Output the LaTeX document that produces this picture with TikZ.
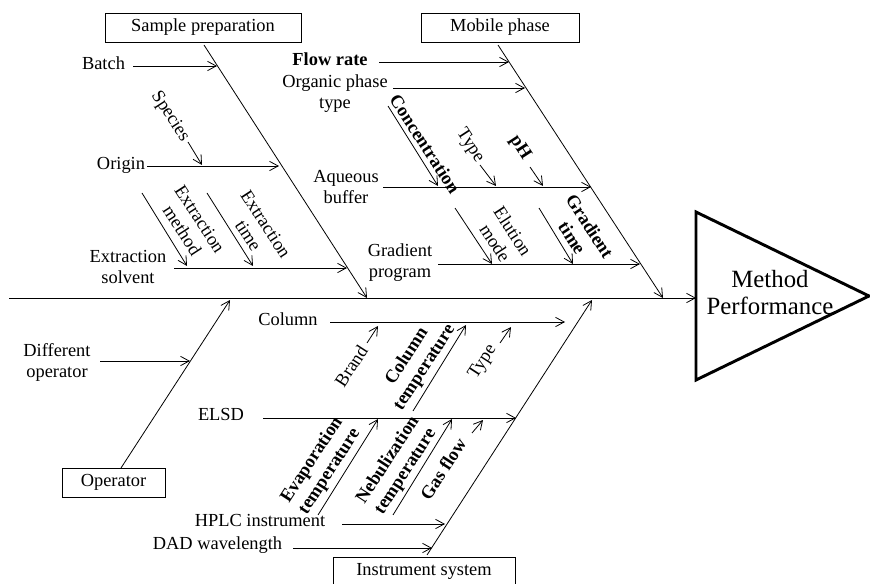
\documentclass[tikz,border=0pt]{standalone}
\usepackage{fontspec}
\setmainfont{Liberation Serif}
\usetikzlibrary{arrows.meta}
\begin{document}
\begin{tikzpicture}[x=0.75pt,y=-0.75pt,
  lbl/.style={font=\fontsize{13.8}{15.75}\selectfont, inner sep=0pt, align=center},
  blbl/.style={font=\fontsize{13.8}{15.75}\selectfont\bfseries, inner sep=0pt, align=center},
  one/.style={text height=1.5ex, text depth=.25ex},
  dn/.style={rotate=-57},
  up/.style={rotate=57},
  box/.style={draw, line width=0.6pt, inner sep=0pt, minimum height=21.75pt, font=\fontsize{13.8}{15.75}\selectfont},
  ln/.style={line width=0.6pt},
  arr/.style={ln, -{Straight Barb[length=6.5pt,width=7pt]}},
]
\useasboundingbox (0,0) rectangle (870,584);

% ---------- boxes ----------
\node[box, minimum width=147pt] (sp) at (203,27.5) {Sample preparation};
\node[box, minimum width=118.5pt] (mp) at (500,27.5) {Mobile phase};
\node[box, minimum width=77.25pt] (op) at (113.5,482.5) {Operator};
\node[box, minimum width=136.5pt] (is) at (424,571.5) {Instrument system};

% ---------- effect ----------
\coordinate (t1) at (696,212);
\coordinate (t2) at (696,380);
\coordinate (t3) at (869,296);
\draw[line width=2.2pt, line join=miter] (t1) -- (t2) -- (t3) -- cycle;
\node[font=\fontsize{18.6}{20.25}\selectfont, align=center] (mperf) at (770,293) {Method\\Performance};

% ---------- spine ----------
\coordinate (s0) at (9,298);
\coordinate (s1) at (696,298);
\draw[arr] (s0) -- (s1);

% ---------- main bones ----------
\coordinate (sp1) at (204,45);  \coordinate (sp2) at (367,298);
\coordinate (mp1) at (498,45);  \coordinate (mp2) at (663,298);
\coordinate (op1) at (121,468); \coordinate (op2) at (230,300);
\coordinate (is1) at (427,555); \coordinate (is2) at (592,300);
\draw[arr] (sp1) -- (sp2);
\draw[arr] (mp1) -- (mp2);
\draw[arr] (op1) -- (op2);
\draw[arr] (is1) -- (is2);

% ---------- Sample preparation ----------
\node[lbl, one] (batch) at (103.5,66) {Batch};
\coordinate (b1) at (133,66); \coordinate (b2) at (217,66);
\draw[arr] (b1) -- (b2);

\node[lbl, one] (origin) at (121,166) {Origin};
\coordinate (o1) at (147,166); \coordinate (o2) at (279,166);
\draw[arr] (o1) -- (o2);

\node[lbl, dn] (species) at (170,117) {Species};
\coordinate (spc1) at (188,142); \coordinate (spc2) at (202,165);
\draw[arr] (spc1) -- (spc2);

\node[lbl] (esolv) at (128,267) {Extraction\\solvent};
\coordinate (es1) at (174,268); \coordinate (es2) at (347,268);
\draw[arr] (es1) -- (es2);

\node[lbl, dn] (emeth) at (191,225) {Extraction\\method};
\coordinate (em1) at (142,193); \coordinate (em2) at (187,266);
\draw[arr] (em1) -- (em2);

\node[lbl, dn] (etime) at (257,230) {Extraction\\time};
\coordinate (et1) at (207,193); \coordinate (et2) at (253,266);
\draw[arr] (et1) -- (et2);

% ---------- Mobile phase ----------
\node[blbl, one] (flow) at (330,62) {Flow rate};
\coordinate (f1) at (379,62); \coordinate (f2) at (509,62);
\draw[arr] (f1) -- (f2);

\node[lbl] (organic) at (335,94) {Organic phase\\type};
\coordinate (org1) at (393,88); \coordinate (org2) at (525,88);
\draw[arr] (org1) -- (org2);

\node[lbl] (aq) at (346,187) {Aqueous\\buffer};
\coordinate (aq1) at (383,187); \coordinate (aq2) at (591,187);
\draw[arr] (aq1) -- (aq2);

\node[blbl, dn] (conc) at (425,144) {Concentration};
\coordinate (c1) at (388,106); \coordinate (c2) at (438,186);
\draw[arr] (c1) -- (c2);

\node[lbl, dn] (typeu) at (470,146) {Type};
\coordinate (ty1) at (480,165); \coordinate (ty2) at (496,186);
\draw[arr] (ty1) -- (ty2);

\node[blbl, dn] (ph) at (520,148) {pH};
\coordinate (ph1) at (530,167); \coordinate (ph2) at (543,186);
\draw[arr] (ph1) -- (ph2);

\node[lbl] (gprog) at (400,263) {Gradient\\program};
\coordinate (gp1) at (438,264); \coordinate (gp2) at (640,264);
\draw[arr] (gp1) -- (gp2);

\node[lbl, dn] (elution) at (504,237) {Elution\\mode};
\coordinate (el1) at (455,208); \coordinate (el2) at (492,264);
\draw[arr] (el1) -- (el2);

\node[blbl, dn] (gtime) at (581,232) {Gradient\\time};
\coordinate (gt1) at (539,208); \coordinate (gt2) at (573,264);
\draw[arr] (gt1) -- (gt2);

% ---------- Operator ----------
\node[lbl] (diffop) at (57,362) {Different\\operator};
\coordinate (d1) at (100,361); \coordinate (d2) at (190,361);
\draw[arr] (d1) -- (d2);

% ---------- Instrument system ----------
\node[lbl, one] (column) at (288,322) {Column};
\coordinate (col1) at (330,322); \coordinate (col2) at (565,322);
\draw[arr] (col1) -- (col2);

\node[lbl, up] (brand) at (351,366) {Brand};
\coordinate (br1) at (367,343); \coordinate (br2) at (378,326);
\draw[arr] (br1) -- (br2);

\node[blbl, up] (coltemp) at (416,362) {Column\\temperature};
\coordinate (ct1) at (413,411); \coordinate (ct2) at (466,325);
\draw[arr] (ct1) -- (ct2);

\node[lbl, up] (typel) at (483,362) {Type};
\coordinate (tl1) at (500,343); \coordinate (tl2) at (511,327);
\draw[arr] (tl1) -- (tl2);

\node[lbl, one] (elsd) at (221,417) {ELSD};
\coordinate (e1) at (263,418); \coordinate (e2) at (516,418);
\draw[arr] (e1) -- (e2);

\node[blbl, up] (evap) at (321,466) {Evaporation\\temperature};
\coordinate (ev1) at (318,515); \coordinate (ev2) at (378,419);
\draw[arr] (ev1) -- (ev2);

\node[blbl, up] (nebu) at (397,466) {Nebulization\\temperature};
\coordinate (nb1) at (393,515); \coordinate (nb2) at (452,419);
\draw[arr] (nb1) -- (nb2);

\node[blbl, up] (gas) at (443,469) {Gas flow};
\coordinate (g1) at (472,433); \coordinate (g2) at (483,420);
\draw[arr] (g1) -- (g2);

\node[lbl, one] (hplc) at (260,523) {HPLC instrument};
\coordinate (h1) at (342,524); \coordinate (h2) at (445,524);
\draw[arr] (h1) -- (h2);

\node[lbl, one] (dad) at (217.5,546) {DAD wavelength};
\coordinate (da1) at (293,548); \coordinate (da2) at (432,548);
\draw[arr] (da1) -- (da2);
\end{tikzpicture}
\end{document}
